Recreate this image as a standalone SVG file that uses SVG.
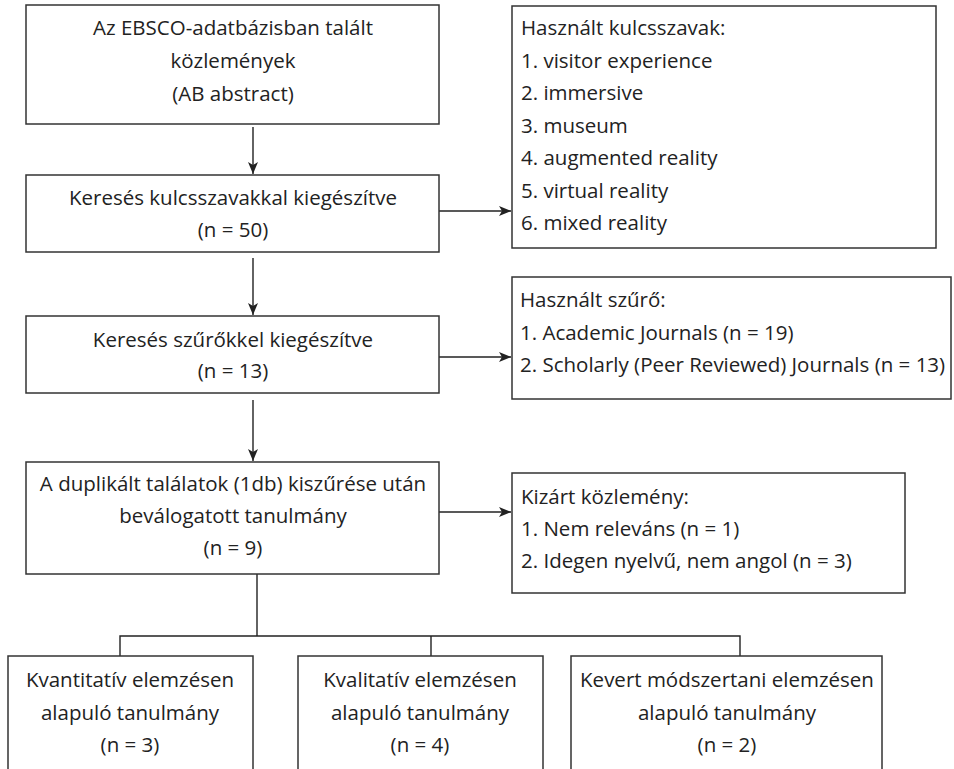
<svg xmlns="http://www.w3.org/2000/svg" width="954" height="769" viewBox="0 0 954 769">
<style>
.box{fill:#fff;stroke:#333;stroke-width:1.5}
.ln{fill:none;stroke:#222;stroke-width:1.4}
text{font-family:"Open Sans","Liberation Sans",sans-serif;font-size:20.5px;fill:#222}
.c{text-anchor:middle}
</style>
<defs>
<marker id="ah" viewBox="0 0 12 10" refX="12" refY="5" markerWidth="12" markerHeight="10" markerUnits="userSpaceOnUse" orient="auto">
<path d="M0,0 L12,5 L0,10 L3,5 Z" fill="#222"/>
</marker>
</defs>
<rect width="954" height="769" fill="#fff"/>
<g id="connectors">
<line class="ln" x1="253" y1="127" x2="253" y2="174" marker-end="url(#ah)"/>
<line class="ln" x1="253" y1="258" x2="253" y2="315" marker-end="url(#ah)"/>
<line class="ln" x1="253" y1="400" x2="253" y2="461" marker-end="url(#ah)"/>
<line class="ln" x1="439" y1="211" x2="511" y2="211" marker-end="url(#ah)"/>
<line class="ln" x1="439" y1="357" x2="511" y2="357" marker-end="url(#ah)"/>
<line class="ln" x1="439" y1="512" x2="511" y2="512" marker-end="url(#ah)"/>
<polyline class="ln" points="257,574 257,636"/>
<polyline class="ln" points="120,656 120,636 740,636 740,656"/>
<line class="ln" x1="431" y1="636" x2="431" y2="656"/>
</g>
<g id="n1">
<rect class="box" x="26" y="5" width="413" height="119"/>
<text class="c" x="233" y="35">Az EBSCO-adatbázisban talált</text>
<text class="c" x="233" y="68">közlemények</text>
<text class="c" x="233" y="101">(AB abstract)</text>
</g>
<g id="n2">
<rect class="box" x="26" y="175" width="413" height="77"/>
<text class="c" x="233" y="205">Keresés kulcsszavakkal kiegészítve</text>
<text class="c" x="233" y="237">(n = 50)</text>
</g>
<g id="n3">
<rect class="box" x="26" y="316" width="413" height="77"/>
<text class="c" x="233" y="347">Keresés szűrőkkel kiegészítve</text>
<text class="c" x="233" y="378">(n = 13)</text>
</g>
<g id="n4">
<rect class="box" x="26" y="462" width="413" height="112"/>
<text class="c" x="233" y="491">A duplikált találatok (1db) kiszűrése után</text>
<text class="c" x="233" y="523">beválogatott tanulmány</text>
<text class="c" x="233" y="555">(n = 9)</text>
</g>
<g id="r1">
<rect class="box" x="512" y="6" width="424" height="242"/>
<text x="521" y="35">Használt kulcsszavak:</text>
<text x="521" y="68">1. visitor experience</text>
<text x="521" y="100">2. immersive</text>
<text x="521" y="133">3. museum</text>
<text x="521" y="165">4. augmented reality</text>
<text x="521" y="198">5. virtual reality</text>
<text x="521" y="230">6. mixed reality</text>
</g>
<g id="r2">
<rect class="box" x="512" y="277" width="439" height="122"/>
<text x="520" y="307">Használt szűrő:</text>
<text x="520" y="340">1. Academic Journals (n = 19)</text>
<text x="520" y="372">2. Scholarly (Peer Reviewed) Journals (n = 13)</text>
</g>
<g id="r3">
<rect class="box" x="512" y="473" width="393" height="120"/>
<text x="521" y="504">Kizárt közlemény:</text>
<text x="521" y="536">1. Nem releváns (n = 1)</text>
<text x="521" y="568">2. Idegen nyelvű, nem angol (n = 3)</text>
</g>
<g id="b1">
<rect class="box" x="8" y="656" width="245" height="120"/>
<text class="c" x="130" y="687">Kvantitatív elemzésen</text>
<text class="c" x="130" y="720">alapuló tanulmány</text>
<text class="c" x="130" y="752">(n = 3)</text>
</g>
<g id="b2">
<rect class="box" x="298" y="656" width="245" height="120"/>
<text class="c" x="420" y="687">Kvalitatív elemzésen</text>
<text class="c" x="420" y="720">alapuló tanulmány</text>
<text class="c" x="420" y="752">(n = 4)</text>
</g>
<g id="b3">
<rect class="box" x="571" y="656" width="311" height="120"/>
<text class="c" x="727" y="687">Kevert módszertani elemzésen</text>
<text class="c" x="727" y="720">alapuló tanulmány</text>
<text class="c" x="727" y="752">(n = 2)</text>
</g>
</svg>
